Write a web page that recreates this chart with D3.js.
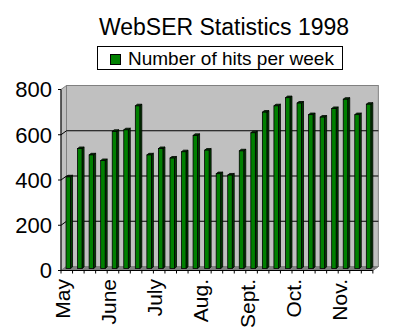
<!DOCTYPE html>
<html><head><meta charset="utf-8">
<script src="https://cdn.jsdelivr.net/npm/d3@7"></script>
<style>html,body{margin:0;padding:0;background:#fff;}svg{display:block;}</style>
</head><body>
<script>
const title = "WebSER Statistics 1998";
const seriesName = "Number of hits per week";
const weeks = d3.range(1, 28);
const hits = [405,530,502,477,606,613,719,502,530,488,516,588,523,419,413,520,600,691,719,755,731,680,669,707,748,680,726];
const monthLabels = ["May","June","July","Aug.","Sept.","Oct.","Nov."];
const monthIndex = [0,4,8,12,16,20,24];
const yTicks = [0,200,400,600,800];

const W = 397, H = 336;
const svg = d3.select("body").append("svg").attr("width", W).attr("height", H);
const font = "'Liberation Sans', Arial, sans-serif";

const DX = 5.5, DY = 4;
const x0 = 61, step = 11.55;
const x = d3.scaleBand().domain(weeks).range([x0, x0 + step * weeks.length]).padding(0);
const yF = d3.scaleLinear().domain([0, 800]).range([270.5, 89.5]);
const yB = v => yF(v) - DY;
const yM = v => yF(v) - DY / 2;
const xR = x0 + step * weeks.length;

// walls
svg.append("polygon")
  .attr("points", [[x0, yF(800)], [x0 + DX, yB(800)], [x0 + DX, yB(0)], [x0, yF(0)]].join(" "))
  .attr("fill", "#c0c0c0").attr("stroke", "#808080");
svg.append("rect")
  .attr("x", x0 + DX).attr("y", yB(800)).attr("width", xR - x0).attr("height", yB(0) - yB(800))
  .attr("fill", "#c0c0c0").attr("stroke", "#808080");
// floor
svg.append("polygon")
  .attr("points", [[x0, yF(0)], [x0 + DX, yB(0)], [xR + DX, yB(0)], [xR, yF(0)]].join(" "))
  .attr("fill", "#808080").attr("stroke", "#808080");

// gridlines
svg.selectAll("path.grid").data(yTicks.filter(v => v > 0 && v < 800)).enter().append("path")
  .attr("class", "grid")
  .attr("d", v => `M${x0},${yF(v)}L${x0 + DX},${yB(v)}L${xR + DX},${yB(v)}`)
  .attr("fill", "none").attr("stroke", "#000").attr("stroke-width", 1);

// bars
const bw = 4.5, bd = 2, bdy = 1.6;
const g = svg.append("g");
weeks.forEach((w, i) => {
  const v = hits[i];
  const bx = x(w) + x.bandwidth() / 2 - bw / 2 + 1.5;
  const top = yM(v), bot = yM(0);
  g.append("polygon")
    .attr("points", [[bx + bw, top], [bx + bw + bd, top - bdy], [bx + bw + bd, bot - bdy], [bx + bw, bot]].join(" "))
    .attr("fill", "#004000").attr("stroke", "#000").attr("stroke-width", 0.8);
  g.append("polygon")
    .attr("points", [[bx, top], [bx + bd, top - bdy], [bx + bw + bd, top - bdy], [bx + bw, top]].join(" "))
    .attr("fill", "#004000").attr("stroke", "#000").attr("stroke-width", 0.8);
  g.append("rect")
    .attr("x", bx).attr("y", top).attr("width", bw).attr("height", bot - top)
    .attr("fill", "#008000").attr("stroke", "#000").attr("stroke-width", 0.8);
});

// y axis
svg.append("line").attr("x1", x0).attr("x2", x0).attr("y1", yF(800)).attr("y2", yF(0)).attr("stroke", "#000");
svg.selectAll("line.yt").data(yTicks).enter().append("line")
  .attr("x1", x0 - 3).attr("x2", x0).attr("y1", d => yF(d)).attr("y2", d => yF(d)).attr("stroke", "#000");
svg.selectAll("text.yl").data(yTicks).enter().append("text")
  .attr("x", 52).attr("y", d => yF(d)).attr("dy", "0.36em")
  .attr("text-anchor", "end").attr("font-family", font).attr("font-size", 22)
  .text(d => d);

// x axis
svg.append("line").attr("x1", x0).attr("x2", xR).attr("y1", yF(0)).attr("y2", yF(0)).attr("stroke", "#000");
svg.append("line").attr("x1", xR).attr("x2", xR + DX).attr("y1", yF(0)).attr("y2", yB(0)).attr("stroke", "#808080");
svg.selectAll("line.xt").data(d3.range(weeks.length + 1)).enter().append("line")
  .attr("x1", i => x0 + step * i).attr("x2", i => x0 + step * i)
  .attr("y1", yF(0)).attr("y2", yF(0) + 3).attr("stroke", "#000");
svg.selectAll("text.xl").data(monthLabels).enter().append("text")
  .attr("transform", (d, i) => `translate(${x(weeks[monthIndex[i]]) + x.bandwidth() / 2 - 4.5},279) rotate(-90)`)
  .attr("dy", "0.36em").attr("text-anchor", "end")
  .attr("font-family", font).attr("font-size", 21)
  .text(d => d);

// title
svg.append("text").attr("x", 224).attr("y", 35).attr("text-anchor", "middle")
  .attr("font-family", font).attr("font-size", 23).text(title);

// legend
svg.append("rect").attr("x", 97.5).attr("y", 46.5).attr("width", 245).attr("height", 23)
  .attr("fill", "#fff").attr("stroke", "#000");
svg.append("rect").attr("x", 110.5).attr("y", 54.5).attr("width", 10).attr("height", 10)
  .attr("fill", "#008000").attr("stroke", "#000");
svg.append("text").attr("x", 128).attr("y", 64.5)
  .attr("font-family", font).attr("font-size", 19).text(seriesName);
</script>
</body></html>
